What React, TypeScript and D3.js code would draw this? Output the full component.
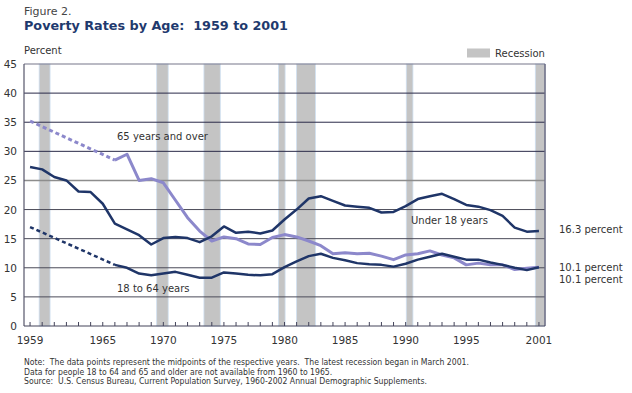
import React from 'react';
import * as d3 from 'd3';

const years = d3.range(1959, 2002);
const under18 = [27.3, 26.9, 25.6, 25.0, 23.1, 23.0, 21.0, 17.6, 16.6, 15.6, 14.0, 15.1, 15.3, 15.1, 14.4, 15.4, 17.1, 16.0, 16.2, 15.9, 16.4, 18.3, 20.0, 21.9, 22.3, 21.5, 20.7, 20.5, 20.3, 19.5, 19.6, 20.6, 21.8, 22.3, 22.7, 21.8, 20.8, 20.5, 19.9, 18.9, 16.9, 16.2, 16.3];
const age18to64 = [17.0, null, null, null, null, null, null, 10.5, 10.0, 9.0, 8.7, 9.0, 9.3, 8.8, 8.3, 8.3, 9.2, 9.0, 8.8, 8.7, 8.9, 10.1, 11.1, 12.0, 12.4, 11.7, 11.3, 10.8, 10.6, 10.5, 10.2, 10.7, 11.4, 11.9, 12.4, 11.9, 11.4, 11.4, 10.9, 10.5, 10.0, 9.6, 10.1];
const age65 = [35.2, null, null, null, null, null, null, 28.5, 29.5, 25.0, 25.3, 24.6, 21.6, 18.6, 16.3, 14.6, 15.3, 15.0, 14.1, 14.0, 15.2, 15.7, 15.3, 14.6, 13.8, 12.4, 12.6, 12.4, 12.5, 12.0, 11.4, 12.2, 12.4, 12.9, 12.2, 11.7, 10.5, 10.8, 10.5, 10.5, 9.7, 9.9, 10.1];
const recessionStart = [1960.25, 1969.95, 1973.85, 1980.0, 1981.5, 1990.55, 2001.2];
const recessionEnd = [1961.15, 1970.9, 1975.2, 1980.55, 1983.05, 1991.1, 2002];
const yTicks = [0, 5, 10, 15, 20, 25, 30, 35, 40, 45];
const xLabels = [1959, 1965, 1970, 1975, 1980, 1985, 1990, 1995, 2001];
const endLabels = ['16.3 percent', '10.1 percent', '10.1 percent'];
const notes = [
  'Note:  The data points represent the midpoints of the respective years.  The latest recession began in March 2001.',
  'Data for people 18 to 64 and 65 and older are not available from 1960 to 1965.',
  'Source:  U.S. Census Bureau, Current Population Survey, 1960-2002 Annual Demographic Supplements.',
];

const navy = '#1f3568';
const lilac = '#8c88cb';
const font = '"DejaVu Sans", Verdana, sans-serif';
const pre = { whiteSpace: 'pre' as const };

export default function App() {
  const x = d3.scaleLinear().domain([1959, 2002]).range([24, 545]);
  const y = d3.scaleLinear().domain([0, 45]).range([326, 64]);

  const pts = (vals: (number | null)[]) => years.map((yr, i) => [yr + 0.5, vals[i]] as [number, number | null]);
  const line = d3.line<[number, number | null]>()
    .defined(d => d[1] != null)
    .x(d => x(d[0]))
    .y(d => y(d[1] as number));

  // dashed bridge across the years with no data
  const bridge = (vals: (number | null)[]) => {
    const p = pts(vals);
    const next = p.findIndex((d, i) => i > 0 && d[1] != null);
    return line([p[0], p[next]]) || '';
  };

  return (
    <svg width={632} height={393} style={{ position: 'absolute', left: 0, top: 0, background: '#fff' }}>
      <text x={24} y={15} fontFamily={font} fontSize={11} fill="#444">Figure 2.</text>
      <text x={24} y={30} fontFamily={font} fontSize={13} fontWeight="bold" fill="#1f3a6e" style={pre} xmlSpace="preserve"
        textLength={264} lengthAdjust="spacingAndGlyphs">Poverty Rates by Age:  1959 to 2001</text>
      <text x={24} y={54} fontFamily={font} fontSize={10} fill="#333">Percent</text>

      {/* legend */}
      <rect x={467} y={48.5} width={23} height={9} fill="#c4c4c4" />
      <text x={495} y={57} fontFamily={font} fontSize={10} fill="#333">Recession</text>

      {/* recession bars */}
      {recessionStart.map((s, i) => (
        <rect key={i} x={x(s)} y={y(45)} width={x(recessionEnd[i]) - x(s)} height={y(0) - y(45)}
          fill="#c4c4c4" stroke="#cfe0f2" strokeWidth={0.8} />
      ))}

      {/* grid */}
      {yTicks.filter(t => t > 0 && t < 45).map(t => (
        <line key={t} x1={x(1959)} x2={x(2002)} y1={y(t)} y2={y(t)}
          stroke={t === 25 ? '#8d8d8d' : t >= 30 ? '#2a2a48' : '#4a4a58'} strokeWidth={t === 25 ? 1.4 : 1} />
      ))}
      <line x1={x(1959)} x2={x(2002)} y1={y(45)} y2={y(45)} stroke="#77778a" strokeWidth={1.2} />
      <line x1={x(2002)} x2={x(2002)} y1={y(45)} y2={y(0)} stroke="#6a6a80" strokeWidth={1.5} />
      <line x1={x(1959)} x2={x(1959)} y1={y(45)} y2={y(0)} stroke="#55556a" strokeWidth={1.2} />
      <line x1={x(1959)} x2={x(2002)} y1={y(0)} y2={y(0)} stroke="#44445a" strokeWidth={1.2} />

      {/* y labels */}
      {yTicks.map(t => (
        <text key={t} x={17} y={y(t) + 4} textAnchor="end" fontFamily={font} fontSize={10.5} fill="#333">{t}</text>
      ))}

      {/* x ticks */}
      {years.map(yr => (
        <line key={yr} x1={x(yr + 0.5)} x2={x(yr + 0.5)} y1={y(0) - 4} y2={y(0)} stroke="#44445a" strokeWidth={1} />
      ))}
      {xLabels.map(yr => (
        <text key={yr} x={x(yr + 0.5)} y={344} textAnchor="middle" fontFamily={font} fontSize={10.5} fill="#333">{yr}</text>
      ))}

      {/* series */}
      <path d={bridge(age65)} fill="none" stroke={lilac} strokeWidth={3} strokeDasharray="4 3" />
      <path d={bridge(age18to64)} fill="none" stroke={navy} strokeWidth={2.5} strokeDasharray="4 3" />
      <path d={line(pts(age65)) || ''} fill="none" stroke={lilac} strokeWidth={3} strokeLinejoin="round" />
      <path d={line(pts(age18to64)) || ''} fill="none" stroke={navy} strokeWidth={2.5} strokeLinejoin="round" />
      <path d={line(pts(under18)) || ''} fill="none" stroke={navy} strokeWidth={2.5} strokeLinejoin="round" />

      <text x={117} y={140} fontFamily={font} fontSize={10} fill="#333">65 years and over</text>
      <text x={117} y={292} fontFamily={font} fontSize={10} fill="#333">18 to 64 years</text>
      <text x={411} y={224} fontFamily={font} fontSize={10} fill="#333">Under 18 years</text>

      {endLabels.map((l, i) => (
        <text key={i} x={559} y={[233, 271, 283][i]} fontFamily={font} fontSize={10} fill="#333">{l}</text>
      ))}

      {notes.map((n, i) => (
        <text key={i} x={24} y={365 + i * 9.5} style={pre} xmlSpace="preserve"
          fontFamily='"DejaVu Sans Condensed", "Liberation Sans Narrow", sans-serif' fontSize={8.6} fill="#333">{n}</text>
      ))}
    </svg>
  );
}
